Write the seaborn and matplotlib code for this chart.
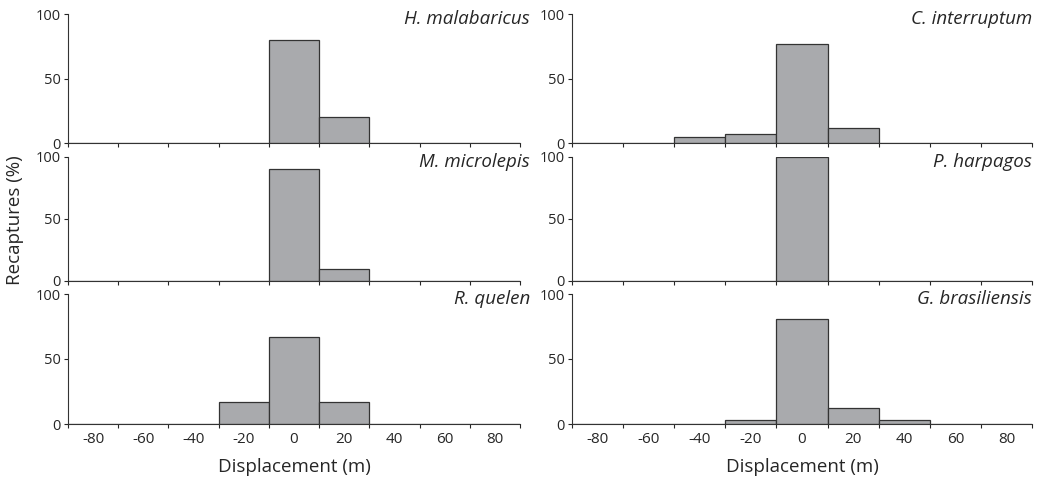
import numpy as np
import pandas as pd
import matplotlib
matplotlib.use("Agg")
import matplotlib.pyplot as plt
import seaborn as sns

displacement = [-80, -60, -40, -20, 0, 20, 40, 60, 80]
species = ["H. malabaricus", "C. interruptum", "M. microlepis",
           "P. harpagos", "R. quelen", "G. brasiliensis"]

h_malabaricus = [0, 0, 0, 0, 80, 20, 0, 0, 0]
c_interruptum = [0, 0, 4.5, 7, 77, 12, 0, 0, 0]
m_microlepis = [0, 0, 0, 0, 90, 10, 0, 0, 0]
p_harpagos = [0, 0, 0, 0, 100, 0, 0, 0, 0]
r_quelen = [0, 0, 0, 17, 67, 17, 0, 0, 0]
g_brasiliensis = [0, 0, 0, 3, 81, 12, 3, 0, 0]

values = [h_malabaricus, c_interruptum, m_microlepis,
          p_harpagos, r_quelen, g_brasiliensis]

rows = []
for name, vals in zip(species, values):
    for d, v in zip(displacement, vals):
        rows.append({"species": name, "displacement": d, "pct": v})
df = pd.DataFrame(rows)

sns.set_style("ticks")
plt.rcParams["font.family"] = ["Open Sans", "DejaVu Sans"]

fig = plt.figure(figsize=(10.47, 4.83), dpi=100)
W, H = 1047, 483
lefts = [68, 572]
widths = [452, 460]
tops = [14, 157, 294]
heights = [129, 124, 130]
label_dx = [10, 0]

for i, name in enumerate(species):
    r, c = divmod(i, 2)
    ax = fig.add_axes([lefts[c] / W, 1 - (tops[r] + heights[r]) / H,
                       widths[c] / W, heights[r] / H])
    sub = df[df["species"] == name]
    sns.barplot(data=sub, x="displacement", y="pct", order=displacement,
                color="#a9aaad", edgecolor="#333333", linewidth=0.9,
                width=1.0, saturation=1, ax=ax)
    ax.set_xlim(-0.5, len(displacement) - 0.5)
    ax.set_ylim(0, 100)
    ax.set_yticks([0, 50, 100])
    ax.tick_params(axis="y", labelsize=10.5, length=3, width=0.8,
                   direction="out", pad=2)
    ax.set_xticks(np.arange(len(displacement)))
    ax.set_xticks(np.arange(len(displacement) + 1) - 0.5, minor=True)
    ax.tick_params(axis="x", which="major", length=0, labelsize=11, pad=6)
    ax.tick_params(axis="x", which="minor", length=3, width=0.8,
                   direction="out")
    if r < 2:
        ax.set_xticklabels([])
    else:
        ax.set_xticklabels([str(d) for d in displacement])
    ax.set_xlabel("")
    ax.set_ylabel("")
    sns.despine(ax=ax)
    for s in ["left", "bottom"]:
        ax.spines[s].set_linewidth(0.8)
        ax.spines[s].set_color("#333333")
    ax.annotate(name, xy=(1.0, 1.0), xycoords="axes fraction",
                xytext=(label_dx[c], 4), textcoords="offset pixels",
                ha="right", va="top", fontsize=13.5, style="italic")
    if r == 2:
        ax.text(0.5, -0.33, "Displacement (m)", transform=ax.transAxes,
                ha="center", va="center", fontsize=13.5)

fig.text(15 / W, 1 - 220 / H, "Recaptures (%)", rotation=90,
         ha="center", va="center", fontsize=13.5)

fig.savefig("out.png", dpi=100)
